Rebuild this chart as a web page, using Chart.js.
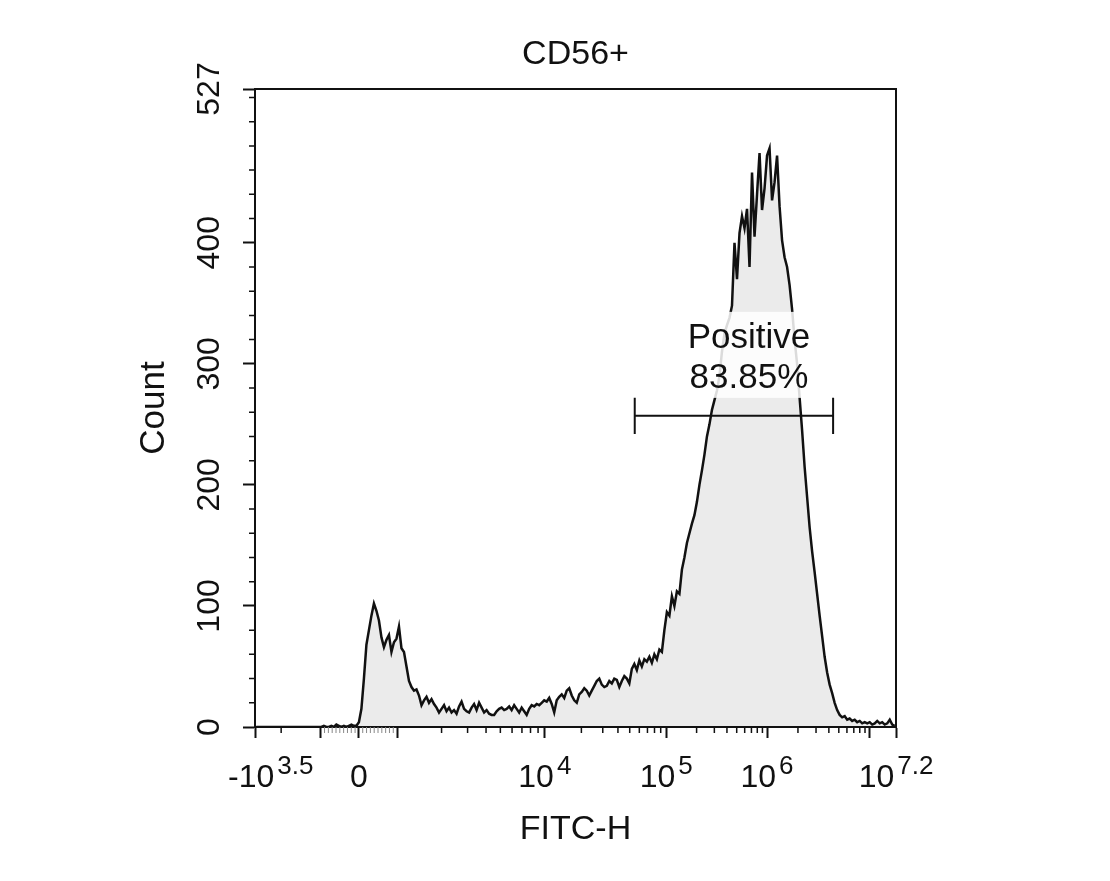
<!DOCTYPE html>
<html><head><meta charset="utf-8">
<script src="https://cdn.jsdelivr.net/npm/chart.js@4.4.0/dist/chart.umd.min.js"></script>
<style>html,body{margin:0;padding:0;background:#fff;}#wrap{width:1110px;height:881px;}</style>
</head><body><div id="wrap"><canvas id="c" width="1110" height="881"></canvas></div>
<script>
// ---------- data ----------
const chartTitle = 'CD56+';
const xAxisTitle = 'FITC-H';
const yAxisTitle = 'Count';
const gateName = 'Positive';
const gatePercent = '83.85%';

// histogram counts, one per display bin (256 bins over 1024 display channels)
const binWidth = 4;
const counts = [
0,0,0,0,0,0,0,0,0,0,0,0,0,0,0,0,0,0,0,0,0,0,0,0,0,0,
0,1,0,0,1,0,2,1,0,1,0,1,2,1,
1,4,15,40,68,80,92,102,96,88,74,66,72,76,62,70,73,83,65,62,
50,38,33,30,31,26,18,22,25,20,23,19,16,12,15,18,13,16,12,14,
11,17,21,15,13,12,16,19,14,20,16,12,14,11,10,10,13,15,16,14,
15,17,14,18,15,12,16,13,10,15,18,17,19,18,20,22,21,24,19,12,
22,25,27,24,30,32,26,22,20,27,29,32,30,26,30,34,38,40,35,33,
34,38,36,40,39,33,38,42,40,36,48,52,47,55,50,56,54,58,53,60,
56,64,62,80,95,92,108,100,112,110,130,140,152,160,168,175,186,200,212,225,
240,250,262,270,278,290,310,325,332,338,348,400,370,408,422,412,428,380,458,405,
440,474,427,445,472,478,435,450,472,430,402,388,380,365,345,320,300,272,245,215,
190,165,145,128,110,92,75,58,45,35,28,20,14,10,8,9,6,7,5,6,
4,5,3,4,3,4,2,3,5,3,4,2,3,6,2,1
];

// biexponential axis: decade anchors (FITC-H value -> display channel)
const anchorValues   = [-3162.28, -1000, 0, 1000, 1e4, 1e5, 1e6, 1e7, 15848932];
const anchorChannels = [0, 105, 166, 227, 463, 657, 818, 982, 1024];
const xMax = 1024;

// major x ticks and their labels (base + exponent)
const xMajorValues = [-3162.28, -1000, 0, 1000, 1e4, 1e5, 1e6, 1e7, 15848932];
const xTickBase    = ['-10', '', '0', '', '10', '10', '10', '', '10'];
const xTickExp     = ['3.5', '', '', '', '4', '5', '6', '', '7.2'];
const xLinearMinor = [-900,-800,-700,-600,-500,-400,-300,-200,-100,100,200,300,400,500,600,700,800,900];
const xLogMinorMult = [2,3,4,5,6,7,8,9];
const xLogMinorDecades = [1e3, 1e4, 1e5, 1e6];
const xNegMinor = [-2000];

// y axis
const yMax = 527;
const yMajor = [0, 100, 200, 300, 400, 527];
const yTickLabels = ['0', '100', '200', '300', '400', '527'];
const yMinorStep = 20;

// gate
const gateStart = 5.5e4;       // FITC-H
const gateEnd = 4.4e6;         // FITC-H
const gateLevel = 257;         // count
const gateCap = 15;            // count

// ---------- transform ----------
function toChannel(v){
  for (let k = 0; k < anchorValues.length - 1; k++){
    const a = anchorValues[k], b = anchorValues[k+1];
    if (v >= a && v <= b){
      const ca = anchorChannels[k], cb = anchorChannels[k+1];
      let t;
      if (Math.abs(a) <= 1000 && Math.abs(b) <= 1000) t = (v - a) / (b - a);
      else if (a > 0) t = Math.log(v / a) / Math.log(b / a);
      else t = Math.log(-a / -v) / Math.log(-a / -b);
      return ca + t * (cb - ca);
    }
  }
  return v < anchorValues[0] ? 0 : xMax;
}

const points = counts.map((c, i) => ({x: i * binWidth + binWidth / 2, y: c}));

const FONT = 'Liberation Sans, Arial, sans-serif';

const decor = {
  id: 'decor',
  afterDatasetsDraw(chart){
    const ctx = chart.ctx, xs = chart.scales.x, ys = chart.scales.y;
    const x1 = xs.getPixelForValue(toChannel(gateStart)), x2 = xs.getPixelForValue(toChannel(gateEnd));
    const cx = (x1 + x2) / 2 + 15;
    const gy = ys.getPixelForValue(gateLevel);
    ctx.save();
    ctx.font = '35px ' + FONT;
    const w = Math.max(ctx.measureText(gateName).width, ctx.measureText(gatePercent).width) + 16;
    ctx.fillStyle = 'rgba(255,255,255,0.85)';
    ctx.fillRect(cx - w/2, gy - 104, w, 86);
    ctx.fillStyle = '#111';
    ctx.textAlign = 'center';
    ctx.textBaseline = 'alphabetic';
    ctx.fillText(gateName, cx, gy - 68);
    ctx.fillText(gatePercent, cx, gy - 28);
    const yt = ys.getPixelForValue(gateLevel + gateCap), yb = ys.getPixelForValue(gateLevel - gateCap);
    ctx.strokeStyle = '#111'; ctx.lineWidth = 2;
    ctx.beginPath();
    ctx.moveTo(x1, gy); ctx.lineTo(x2, gy);
    ctx.moveTo(x1, yt); ctx.lineTo(x1, yb);
    ctx.moveTo(x2, yt); ctx.lineTo(x2, yb);
    ctx.stroke();
    ctx.restore();
  },
  afterDraw(chart){
    const ctx = chart.ctx, xs = chart.scales.x, ys = chart.scales.y, a = chart.chartArea;
    ctx.save();
    ctx.strokeStyle = '#111'; ctx.lineWidth = 2;
    ctx.strokeRect(a.left, a.top, a.right - a.left, a.bottom - a.top);
    ctx.lineWidth = 1.5;
    ctx.beginPath();
    for (let v = yMinorStep; v < yMax; v += yMinorStep){
      if (yMajor.includes(v)) continue;
      const y = ys.getPixelForValue(v);
      ctx.moveTo(a.left - 6, y); ctx.lineTo(a.left, y);
    }
    const xm = [];
    xLogMinorDecades.forEach(d => xLogMinorMult.forEach(m => xm.push(d * m)));
    xNegMinor.forEach(v => xm.push(v));
    xm.forEach(v => {
      const x = xs.getPixelForValue(toChannel(v));
      ctx.moveTo(x, a.bottom); ctx.lineTo(x, a.bottom + 6);
    });
    ctx.stroke();
    ctx.strokeStyle = '#888'; ctx.lineWidth = 1;
    ctx.beginPath();
    xLinearMinor.forEach(v => {
      const x = xs.getPixelForValue(toChannel(v));
      ctx.moveTo(x, a.bottom); ctx.lineTo(x, a.bottom + 6);
    });
    ctx.stroke();
    ctx.fillStyle = '#111';
    ctx.font = '32px ' + FONT;
    ctx.textAlign = 'center'; ctx.textBaseline = 'middle';
    yMajor.forEach((v, k) => {
      const y = ys.getPixelForValue(v);
      ctx.save(); ctx.translate(a.left - 45, y); ctx.rotate(-Math.PI/2);
      ctx.fillText(yTickLabels[k], 0, 0); ctx.restore();
    });
    ctx.textAlign = 'left'; ctx.textBaseline = 'alphabetic';
    xMajorValues.forEach((v, k) => {
      const base = xTickBase[k], ex = xTickExp[k];
      if (!base) return;
      const x = xs.getPixelForValue(toChannel(v));
      ctx.font = '32px ' + FONT;
      const wb = ctx.measureText(base).width;
      ctx.font = '26px ' + FONT;
      const we = ex ? ctx.measureText(ex).width + 3 : 0;
      let x0 = x - (wb + we) / 2;
      x0 = Math.max(x0, a.left - 27);
      ctx.font = '32px ' + FONT;
      ctx.fillText(base, x0, a.bottom + 60);
      if (ex){ ctx.font = '26px ' + FONT; ctx.fillText(ex, x0 + wb + 3, a.bottom + 47); }
    });
    ctx.restore();
  }
};

new Chart(document.getElementById('c'), {
  type: 'line',
  data: { datasets: [{
    data: points,
    borderColor: '#111', borderWidth: 2.5,
    backgroundColor: '#ebebeb', fill: 'origin',
    pointRadius: 0, tension: 0
  }]},
  options: {
    responsive: false, animation: false, devicePixelRatio: 1,
    layout: { padding: { left: 110, right: 214, top: 18, bottom: 20 } },
    plugins: {
      legend: { display: false }, tooltip: { enabled: false },
      title: { display: true, text: chartTitle, fullSize: false, color: '#111',
        font: { size: 34, family: FONT, weight: 'normal' }, padding: { top: 16, bottom: 14.2 } }
    },
    scales: {
      x: {
        type: 'linear', min: 0, max: xMax,
        afterBuildTicks(s){ s.ticks = xMajorValues.map(v => ({ value: toChannel(v) })); },
        afterFit(s){ s.height = 134; },
        ticks: { display: false },
        grid: { display: true, drawOnChartArea: false, drawTicks: true, tickLength: 11, tickWidth: 2, tickColor: '#111' },
        border: { display: true, color: '#111', width: 2 },
        title: { display: true, text: xAxisTitle, color: '#111', font: { size: 34, family: FONT }, padding: { top: 0, bottom: 11 } }
      },
      y: {
        type: 'linear', min: 0, max: yMax,
        afterBuildTicks(s){ s.ticks = yMajor.map(v => ({ value: v })); },
        afterFit(s){ s.width = 145; },
        ticks: { display: false },
        grid: { display: true, drawOnChartArea: false, drawTicks: true, tickLength: 12, tickWidth: 2, tickColor: '#111' },
        border: { display: true, color: '#111', width: 2 },
        title: { display: true, text: yAxisTitle, color: '#111', font: { size: 35, family: FONT }, padding: { top: 23, bottom: 0 } }
      }
    }
  },
  plugins: [decor]
});
</script>
</body></html>
